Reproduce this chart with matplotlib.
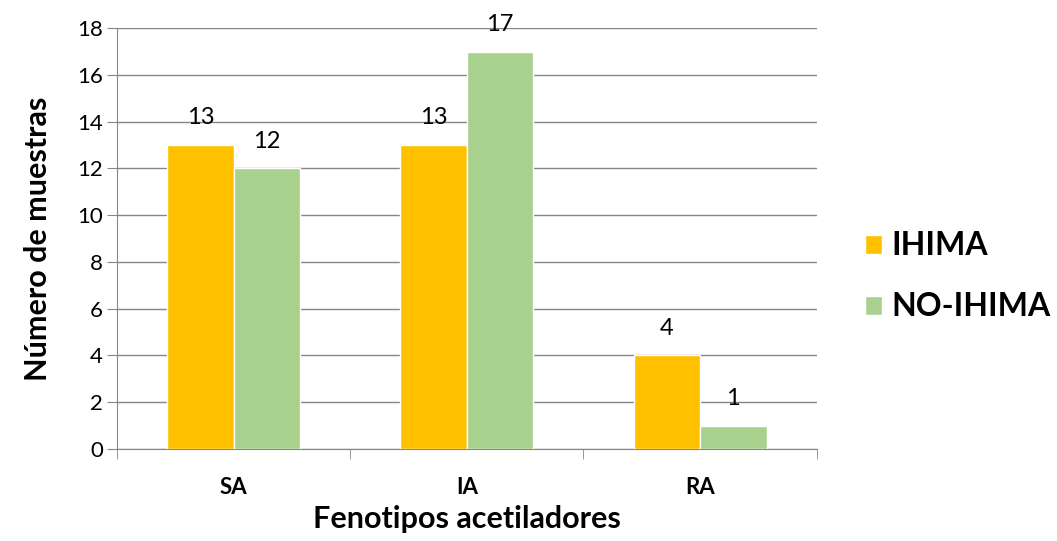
import numpy as np
import matplotlib
matplotlib.use("Agg")
import matplotlib.pyplot as plt

categories = ["SA", "IA", "RA"]
ihima = [13, 13, 4]
no_ihima = [12, 17, 1]
series_names = ["IHIMA", "NO-IHIMA"]

plt.rcParams['font.family'] = ['Lato', 'DejaVu Sans']

fig = plt.figure(figsize=(10.57, 5.41), dpi=100)
ax = fig.add_axes([0.1107, 0.170, 0.662, 0.778])

x = np.arange(len(categories))
w = 0.285
b1 = ax.bar(x - w / 2, ihima, w, color="#FFC000", edgecolor="white", linewidth=1, label=series_names[0], zorder=3)
b2 = ax.bar(x + w / 2, no_ihima, w, color="#A9D18E", edgecolor="white", linewidth=1, label=series_names[1], zorder=3)

for bars in (b1, b2):
    for r in bars:
        ax.annotate(str(int(r.get_height())), (r.get_x() + r.get_width() / 2, r.get_height()),
                    xytext=(0, 12), textcoords="offset points", ha="center", va="bottom", fontsize=17)

ax.set_xlim(-0.5, 2.5)
ax.set_ylim(0, 18)
ax.set_yticks(range(0, 19, 2))
ax.set_xticks(x)
ax.set_xticklabels(categories, fontsize=16, fontweight="bold")
ax.set_xticks([-0.5, 0.5, 1.5, 2.5], minor=True)
ax.tick_params(axis="x", which="major", length=0, pad=20)
ax.tick_params(axis="x", which="minor", length=7, color="#868686", direction="out")
ax.tick_params(axis="y", labelsize=16, length=7, color="#868686", pad=3)

ax.yaxis.grid(True, color="#868686", linewidth=1, zorder=0)
ax.set_axisbelow(True)
for s in ["top", "right"]:
    ax.spines[s].set_visible(False)
for s in ["left", "bottom"]:
    ax.spines[s].set_color("#868686")

ax.set_xlabel("Fenotipos acetiladores", fontsize=22, fontweight="bold", labelpad=5)
ax.set_ylabel("Número de muestras", fontsize=22, fontweight="bold", labelpad=18)

ax.legend(loc="center left", bbox_to_anchor=(1.05, 0.41), frameon=False,
          prop={"size": 23, "weight": "bold"}, handlelength=0.55, handleheight=0.55,
          handletextpad=0.3, labelspacing=1.0, borderaxespad=0)

fig.savefig("out.png", dpi=100)
